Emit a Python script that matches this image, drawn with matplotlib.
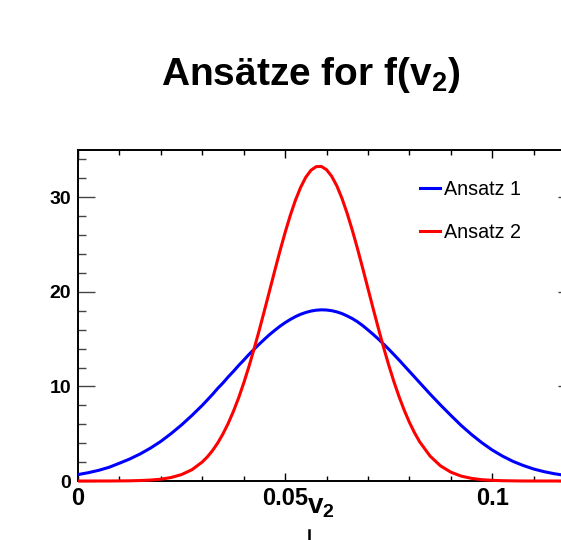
import matplotlib
matplotlib.use("Agg")
import matplotlib.pyplot as plt
from matplotlib.lines import Line2D

plt.rcParams['font.family'] = ['Liberation Sans', 'DejaVu Sans']
plt.rcParams['mathtext.fontset'] = 'custom'
plt.rcParams['mathtext.rm'] = 'Liberation Sans:bold'
plt.rcParams['mathtext.it'] = 'Liberation Sans:bold'
plt.rcParams['mathtext.bf'] = 'Liberation Sans:bold'

# ---- data ----
v2 = [0.0000, 0.0025, 0.0050, 0.0075, 0.0100, 0.0125, 0.0150, 0.0175, 0.0200, 0.0225,
      0.0250, 0.0275, 0.0300,
      0.03125, 0.0325, 0.03375, 0.0350, 0.03625, 0.0375, 0.03875, 0.0400, 0.04125, 0.0425,
      0.04375, 0.0450, 0.04625, 0.0475, 0.04875, 0.0500, 0.05125, 0.0525, 0.05375, 0.0550,
      0.05625, 0.0575, 0.05875, 0.0600, 0.06125, 0.0625, 0.06375, 0.0650, 0.06625, 0.0675,
      0.06875, 0.0700, 0.07125, 0.0725, 0.07375, 0.0750, 0.07625, 0.0775, 0.07875, 0.0800,
      0.08125,
      0.0825, 0.0850, 0.0875, 0.0900, 0.0925, 0.0950, 0.0975, 0.1000, 0.1025, 0.1050,
      0.1075, 0.1100, 0.1125, 0.1150, 0.1175, 0.1200]
ansatz1 = [0.68, 0.88, 1.13, 1.45, 1.88, 2.33, 2.86, 3.48, 4.19, 5.02,
           5.93, 6.93, 8.00,
           8.58, 9.17, 9.80, 10.37, 11.00, 11.58, 12.20, 12.77, 13.37, 13.92,
           14.47, 14.98, 15.48, 15.93, 16.36, 16.74, 17.08, 17.38, 17.63, 17.82,
           17.97, 18.06, 18.10, 18.08, 18.01, 17.88, 17.70, 17.45, 17.17, 16.83,
           16.43, 15.98, 15.51, 15.02, 14.49, 13.95, 13.38, 12.80, 12.20, 11.60,
           11.00,
           10.40, 9.20, 8.05, 6.95, 5.88, 4.92, 4.05, 3.28, 2.63, 2.08,
           1.64, 1.27, 0.99, 0.77, 0.60, 0.47]
ansatz2 = [0.0, 0.0, 0.0, 0.0, 0.01, 0.02, 0.05, 0.10, 0.19, 0.37,
           0.68, 1.19, 2.01,
           2.56, 3.23, 4.03, 4.98, 6.08, 7.34, 8.75, 10.34, 12.07, 13.95,
           15.93, 18.00, 20.11, 22.23, 24.30, 26.26, 28.08, 29.69, 31.05, 32.12,
           32.86, 33.24, 33.26, 32.92, 32.22, 31.20, 29.87, 28.28, 26.49, 24.54,
           22.48, 20.37, 18.25, 16.18, 14.18, 12.29, 10.54, 8.94, 7.50, 6.22,
           5.10,
           4.14, 2.64, 1.61, 0.94, 0.52, 0.28, 0.14, 0.07, 0.03, 0.015,
           0.0, 0.0, 0.0, 0.0, 0.0, 0.0]
series_labels = ["Ansatz 1", "Ansatz 2"]
x_ticks = [0.0, 0.05, 0.1]
x_ticklabels = ["0", "0.05", "0.1"]
y_ticks = [0, 10, 20, 30]
y_ticklabels = ["0", "10", "20", "30"]

W, H = 561, 540
fig = plt.figure(figsize=(W / 100, H / 100), dpi=100)
fig.patch.set_facecolor('white')

L, R, B, T = 78, 575, 481, 150
ax = fig.add_axes([L / W, 1 - B / H, (R - L) / W, (B - T) / H])
ax.set_xlim(0, 0.12)
ax.set_ylim(0, 35)

ax.plot(v2, ansatz1, color='#0000ff', lw=2.2, clip_on=False, zorder=5,
        solid_joinstyle='round', solid_capstyle='butt')
ax.plot(v2, ansatz2, color='#ff0000', lw=2.2, clip_on=False, zorder=6,
        solid_joinstyle='round', solid_capstyle='butt')

for s in ax.spines.values():
    s.set_linewidth(1.4)
    s.set_color('black')

ax.set_xticks(x_ticks)
ax.set_xticklabels(x_ticklabels)
ax.set_xticks([0.01 * i for i in range(13) if i % 5 != 0], minor=True)
ax.set_yticks(y_ticks)
ax.set_yticklabels(y_ticklabels)
ax.set_yticks([2 * i for i in range(18) if i % 5 != 0], minor=True)

ax.tick_params(axis='x', which='major', direction='in', length=5.8, width=1.0,
               top=True, bottom=True, labelsize=17, pad=4)
ax.tick_params(axis='x', which='minor', direction='in', length=3.6, width=1.0,
               top=True, bottom=True)
ax.tick_params(axis='y', which='major', direction='in', length=12, width=1.0,
               left=True, right=True, labelsize=14, pad=5, color='#444444')
ax.tick_params(axis='y', which='minor', direction='in', length=5.8, width=1.0,
               left=True, right=True, color='#444444')
for lab in ax.get_xticklabels() + ax.get_yticklabels():
    lab.set_fontweight('bold')

# legend
handles = [Line2D([], [], color='#0000ff', lw=2.2), Line2D([], [], color='#ff0000', lw=2.2)]
leg = ax.legend(handles, series_labels, loc='upper left',
                bbox_to_anchor=(420 / W, 1 - 180 / H), bbox_transform=fig.transFigure,
                frameon=False, fontsize=14.2, handlelength=1.0, handletextpad=0.2,
                labelspacing=1.2, borderpad=0, borderaxespad=0)

# title
fig.text(311 / W, 1 - 85 / H, r"Ansätze for f(v$_2$)", ha='center', va='baseline',
         fontsize=28, fontweight='bold')
# x-axis label
fig.text(307 / W, 1 - 513 / H, r"v$_2$", ha='left', va='baseline',
         fontsize=20, fontweight='bold')
# small cropped mark at bottom
fig.add_artist(Line2D([309 / W, 309 / W], [1 - 530 / H, 1 - 540 / H], color='black', lw=1.8,
                      transform=fig.transFigure))

fig.savefig('out.png', dpi=100)
